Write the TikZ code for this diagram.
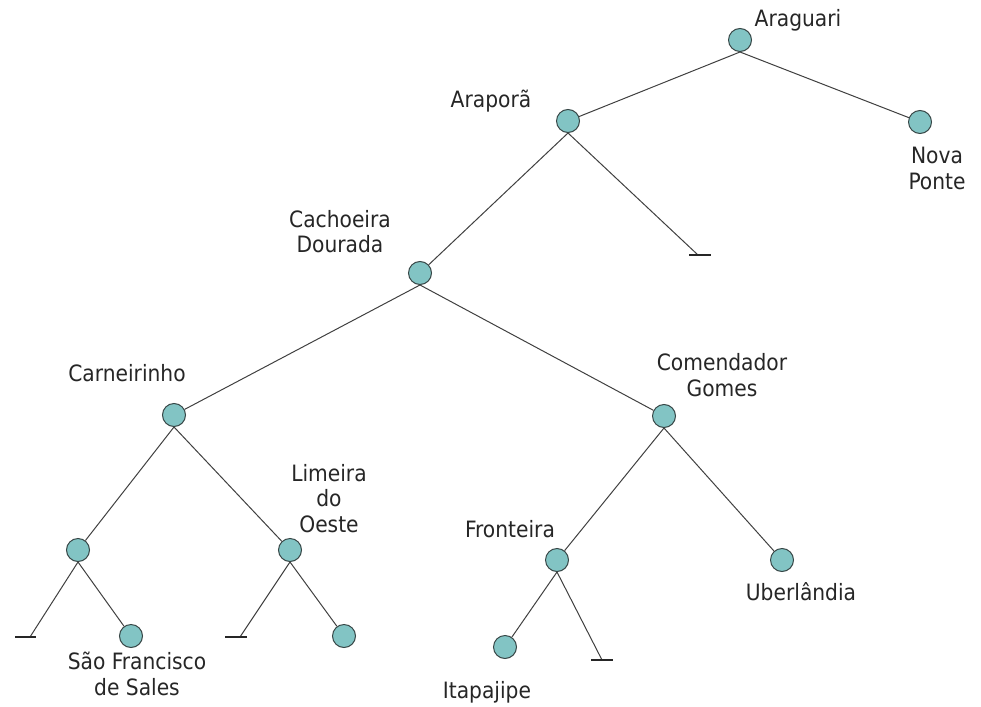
\documentclass[tikz,border=0pt]{standalone}
\usepackage{fontspec}
\setmainfont{DejaVu Sans Condensed}
\definecolor{cityfill}{RGB}{130,196,196}
\definecolor{cityline}{RGB}{55,70,70}
\begin{document}
\begin{tikzpicture}[x=1pt,y=-1pt,
  city/.style={circle,draw=cityline,line width=1pt,fill=cityfill,minimum size=23pt,inner sep=0pt},
  citylabel/.style={font=\fontsize{22.5}{25.5}\selectfont,text=black!85,align=center,inner sep=0pt,anchor=base},
  branch/.style={draw=black!75,line width=1pt},
  nullbar/.style={draw=black!85,line width=1.2pt}]
\useasboundingbox (0,0) rectangle (981,706);
% municipalities
\node[city] (ara) at (740,40) {};
\node[city] (apo) at (568,121) {};
\node[city] (npo) at (920,122) {};
\node[city] (cdo) at (420,273) {};
\node[city] (car) at (174,415) {};
\node[city] (cgo) at (664,416) {};
\node[city] (u1) at (78,550) {};
\node[city] (lim) at (290,550) {};
\node[city] (fro) at (557,560) {};
\node[city] (ube) at (782,560) {};
\node[city] (sfs) at (131,636) {};
\node[city] (u2) at (344,636) {};
\node[city] (ita) at (505,647) {};
% empty subtrees
\coordinate (n1) at (698,255);
\coordinate (n2) at (30,637);
\coordinate (n3) at (240,637);
\coordinate (n4) at (602,660);
% labels (base anchor sits on the last line)
\node[citylabel] (lara) at (798,26.7) {Araguari};
\node[citylabel] (lapo) at (491,107) {Araporã};
\node[citylabel] (lnpo) at (937,189) {Nova\\Ponte};
\node[citylabel] (lcdo) at (340,252.5) {Cachoeira\\Dourada};
\node[citylabel] (lcar) at (127,381) {Carneirinho};
\node[citylabel] (lcgo) at (722,396) {Comendador\\Gomes};
\node[citylabel] (llim) at (329,532) {Limeira\\do\\Oeste};
\node[citylabel] (lfro) at (510,537) {Fronteira};
\node[citylabel] (lube) at (801,600) {Uberlândia};
\node[citylabel] (lsfs) at (137,695) {São Francisco\\de Sales};
\node[citylabel] (lita) at (487,698) {Itapajipe};
% branches
\draw[branch] (ara.south) -- (apo);
\draw[branch] (ara.south) -- (npo);
\draw[branch] (apo.south) -- (cdo);
\draw[branch] (apo.south) -- (n1);
\draw[branch] (cdo.south) -- (car);
\draw[branch] (cdo.south) -- (cgo);
\draw[branch] (car.south) -- (u1);
\draw[branch] (car.south) -- (lim);
\draw[branch] (cgo.south) -- (fro);
\draw[branch] (cgo.south) -- (ube);
\draw[branch] (u1.south) -- (n2);
\draw[branch] (u1.south) -- (sfs);
\draw[branch] (lim.south) -- (n3);
\draw[branch] (lim.south) -- (u2);
\draw[branch] (fro.south) -- (ita);
\draw[branch] (fro.south) -- (n4);
% null markers
\draw[nullbar] ([xshift=-9pt]n1) -- ([xshift=13pt]n1);
\draw[nullbar] ([xshift=-15pt]n2) -- ([xshift=6pt]n2);
\draw[nullbar] ([xshift=-15pt]n3) -- ([xshift=7pt]n3);
\draw[nullbar] ([xshift=-11pt]n4) -- ([xshift=11pt]n4);
\end{tikzpicture}
\end{document}
